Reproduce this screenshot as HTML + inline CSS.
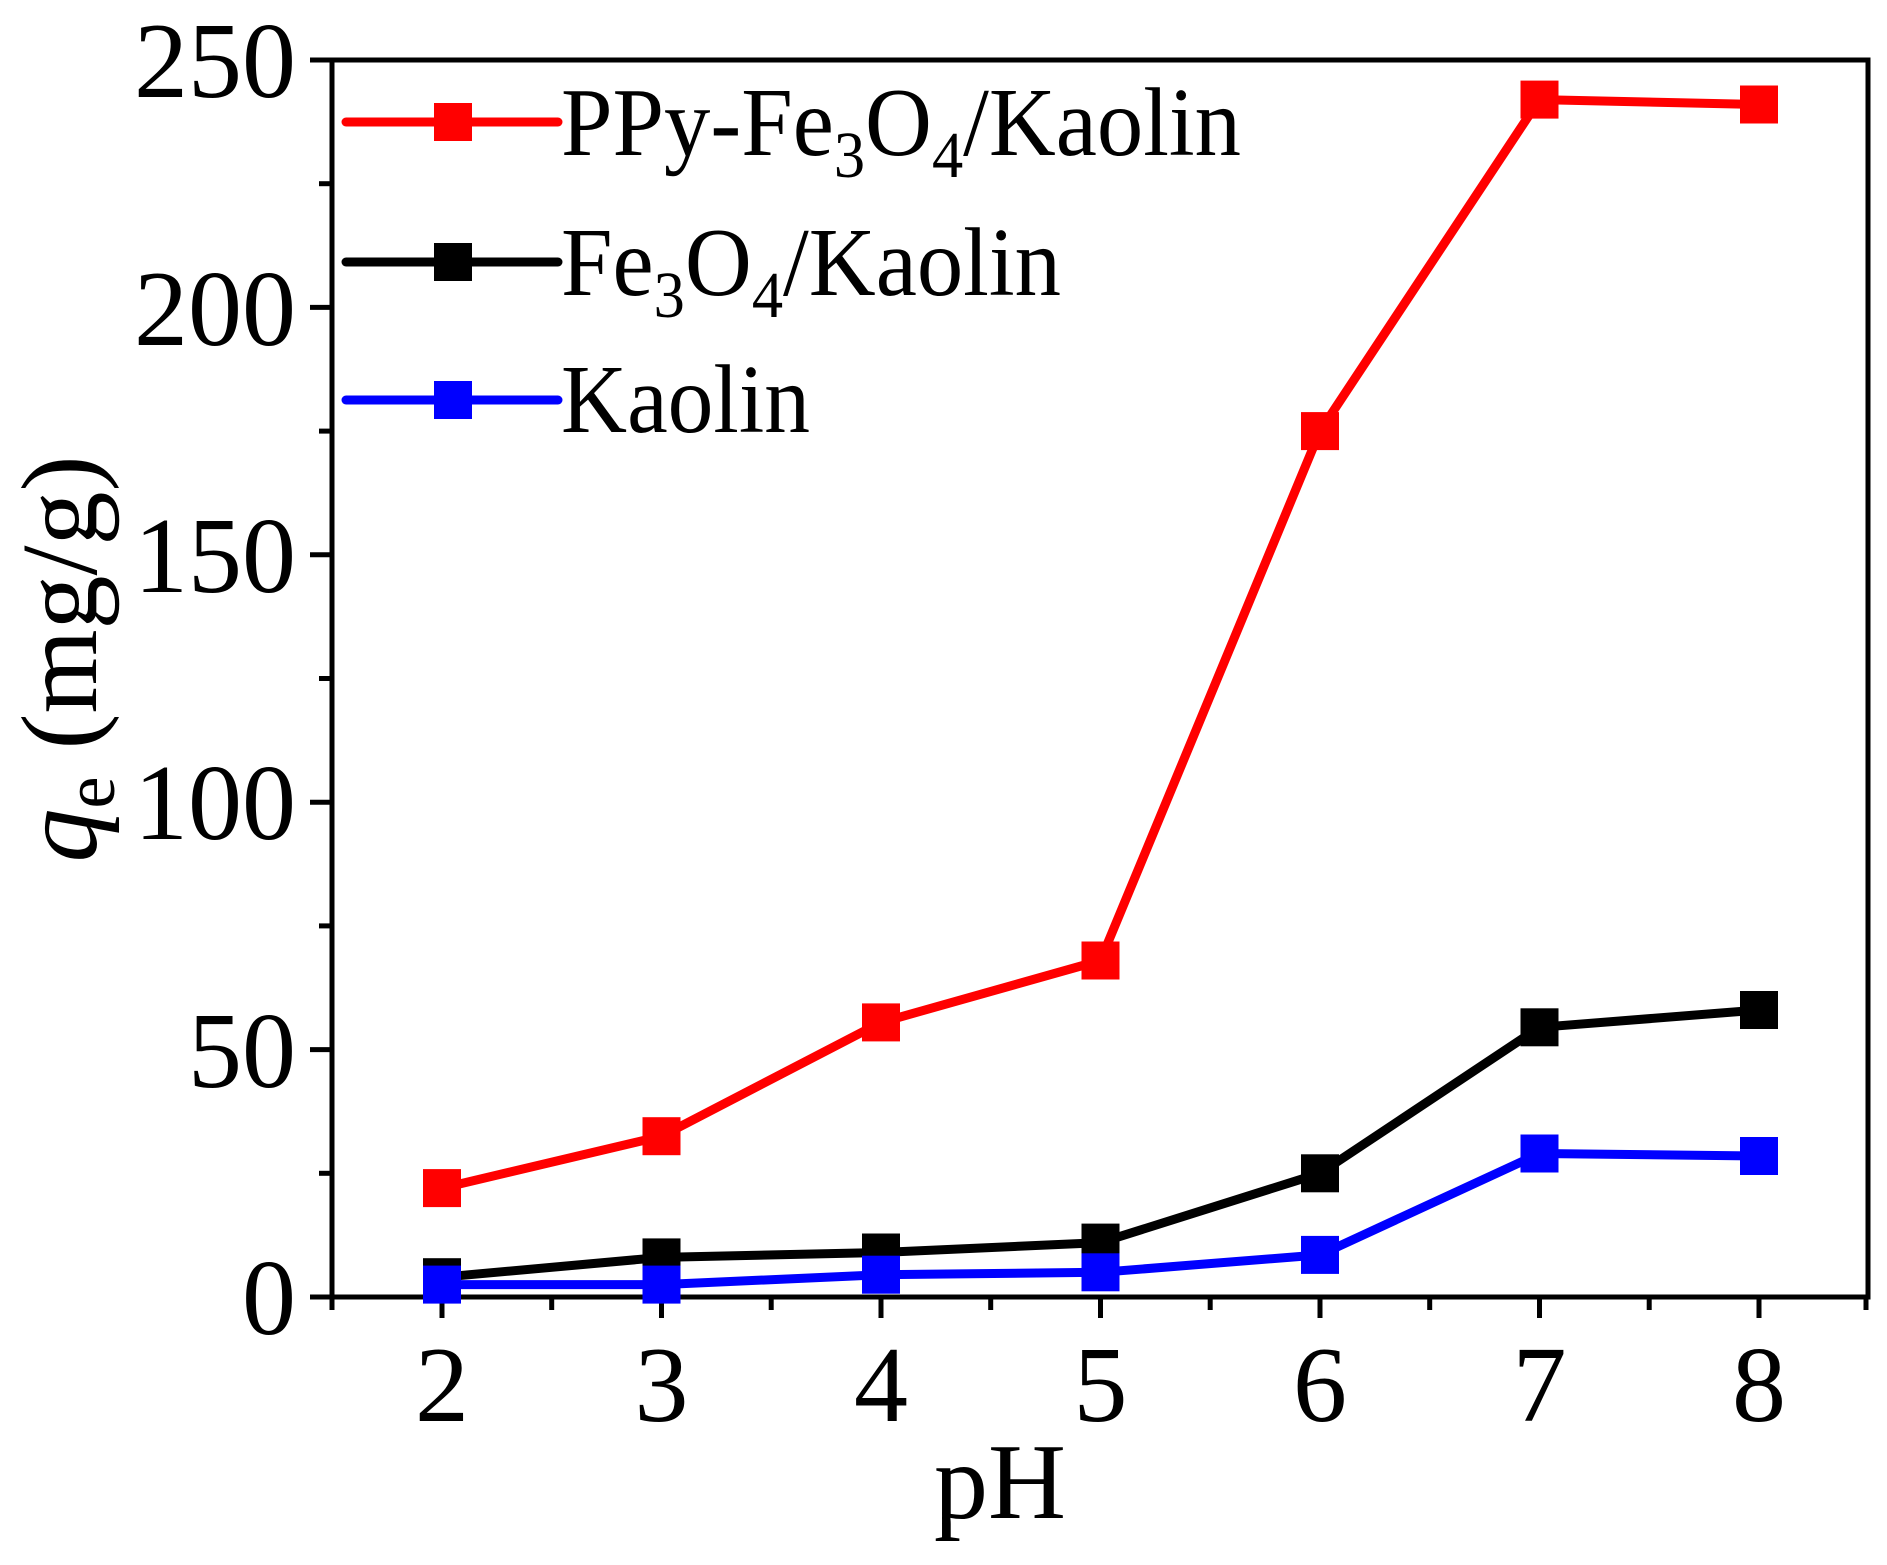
<!DOCTYPE html>
<html><head><style>html,body{margin:0;padding:0;background:#fff}svg{display:block}svg text{font-family:"Liberation Serif","Times New Roman",serif}</style></head>
<body>
<svg width="1887" height="1565" xmlns="http://www.w3.org/2000/svg" style="font-family:'Liberation Serif',serif">
<rect width="1887" height="1565" fill="#fff"/>
<g stroke="#000" stroke-width="5" fill="none">
<rect x="332" y="60" width="1536" height="1237"/>
</g>
<g stroke="#000" stroke-width="5">
<line x1="442" y1="1297" x2="442" y2="1318"/><line x1="661.5" y1="1297" x2="661.5" y2="1318"/><line x1="881" y1="1297" x2="881" y2="1318"/><line x1="1100.5" y1="1297" x2="1100.5" y2="1318"/><line x1="1320" y1="1297" x2="1320" y2="1318"/><line x1="1539.5" y1="1297" x2="1539.5" y2="1318"/><line x1="1759" y1="1297" x2="1759" y2="1318"/>
<line x1="332" y1="1297" x2="332" y2="1310"/><line x1="551.7" y1="1297" x2="551.7" y2="1310"/><line x1="771.2" y1="1297" x2="771.2" y2="1310"/><line x1="990.7" y1="1297" x2="990.7" y2="1310"/><line x1="1210.2" y1="1297" x2="1210.2" y2="1310"/><line x1="1429.7" y1="1297" x2="1429.7" y2="1310"/><line x1="1649.2" y1="1297" x2="1649.2" y2="1310"/><line x1="1866" y1="1297" x2="1866" y2="1310"/>
<line x1="310" y1="1297" x2="332" y2="1297"/><line x1="310" y1="1049.6" x2="332" y2="1049.6"/><line x1="310" y1="802.2" x2="332" y2="802.2"/><line x1="310" y1="554.8" x2="332" y2="554.8"/><line x1="310" y1="307.4" x2="332" y2="307.4"/><line x1="310" y1="60" x2="332" y2="60"/>
<line x1="319" y1="1173.3" x2="332" y2="1173.3"/><line x1="319" y1="925.9" x2="332" y2="925.9"/><line x1="319" y1="678.5" x2="332" y2="678.5"/><line x1="319" y1="431.1" x2="332" y2="431.1"/><line x1="319" y1="183.7" x2="332" y2="183.7"/>
</g>
<g font-size="108" fill="#000" text-anchor="end">
<text x="296" y="1334">0</text><text x="296" y="1087">50</text><text x="296" y="839">100</text><text x="296" y="592">150</text><text x="296" y="345">200</text><text x="296" y="97">250</text>
</g>
<g font-size="108" fill="#000" text-anchor="middle">
<text x="442" y="1421">2</text><text x="661.5" y="1421">3</text><text x="881" y="1421">4</text><text x="1100.5" y="1421">5</text><text x="1320" y="1421">6</text><text x="1539.5" y="1421">7</text><text x="1759" y="1421">8</text>
<text x="1000" y="1518">pH</text>
</g>
<text transform="translate(96,659) rotate(-90)" text-anchor="middle" font-size="108" fill="#000"><tspan font-style="italic">q</tspan><tspan font-size="72" dy="18">e</tspan><tspan dy="-18"> (mg/g)</tspan></text>
<g stroke-width="9" fill="none" stroke-linejoin="round">
<polyline stroke="#0000ff" points="442,1284.6 661.5,1284.6 881,1274.7 1100.5,1272.3 1320,1254.9 1539.5,1153.5 1759,1156"/>
<polyline stroke="#000" points="442,1277.2 661.5,1257.4 881,1252.5 1100.5,1242.6 1320,1173.3 1539.5,1027.3 1759,1010"/>
<polyline stroke="#ff0000" points="442,1188.1 661.5,1136.2 881,1022.4 1100.5,960.5 1320,431.1 1539.5,99.6 1759,104.5"/>
</g>
<g fill="#000">
<rect x="423" y="1258.2" width="38" height="38"/><rect x="642.5" y="1238.4" width="38" height="38"/><rect x="862" y="1233.5" width="38" height="38"/><rect x="1081.5" y="1223.6" width="38" height="38"/><rect x="1301" y="1154.3" width="38" height="38"/><rect x="1520.5" y="1008.3" width="38" height="38"/><rect x="1740" y="991" width="38" height="38"/>
</g>
<g fill="#0000ff">
<rect x="423" y="1265.6" width="38" height="38"/><rect x="642.5" y="1265.6" width="38" height="38"/><rect x="862" y="1255.7" width="38" height="38"/><rect x="1081.5" y="1253.3" width="38" height="38"/><rect x="1301" y="1235.9" width="38" height="38"/><rect x="1520.5" y="1134.5" width="38" height="38"/><rect x="1740" y="1137" width="38" height="38"/>
</g>
<g fill="#ff0000">
<rect x="423" y="1169.1" width="38" height="38"/><rect x="642.5" y="1117.2" width="38" height="38"/><rect x="862" y="1003.4" width="38" height="38"/><rect x="1081.5" y="941.5" width="38" height="38"/><rect x="1301" y="412.1" width="38" height="38"/><rect x="1520.5" y="80.6" width="38" height="38"/><rect x="1740" y="85.5" width="38" height="38"/>
</g>
<g stroke-width="9" stroke-linecap="round">
<line x1="346" y1="122" x2="558" y2="122" stroke="#ff0000"/>
<line x1="346" y1="262" x2="558" y2="262" stroke="#000"/>
<line x1="346" y1="400" x2="558" y2="400" stroke="#0000ff"/>
</g>
<rect x="434" y="103" width="38" height="38" fill="#ff0000"/>
<rect x="434" y="243" width="38" height="38" fill="#000"/>
<rect x="434" y="381" width="38" height="38" fill="#0000ff"/>
<g font-size="98" fill="#000">
<text x="561" y="155" textLength="680" lengthAdjust="spacingAndGlyphs">PPy-Fe<tspan font-size="66" dy="22">3</tspan><tspan dy="-22">O</tspan><tspan font-size="66" dy="22">4</tspan><tspan dy="-22">/Kaolin</tspan></text>
<text x="561" y="295" textLength="500" lengthAdjust="spacingAndGlyphs">Fe<tspan font-size="66" dy="22">3</tspan><tspan dy="-22">O</tspan><tspan font-size="66" dy="22">4</tspan><tspan dy="-22">/Kaolin</tspan></text>
<text x="561" y="432" textLength="249" lengthAdjust="spacingAndGlyphs">Kaolin</text>
</g>
</svg>
</body></html>
